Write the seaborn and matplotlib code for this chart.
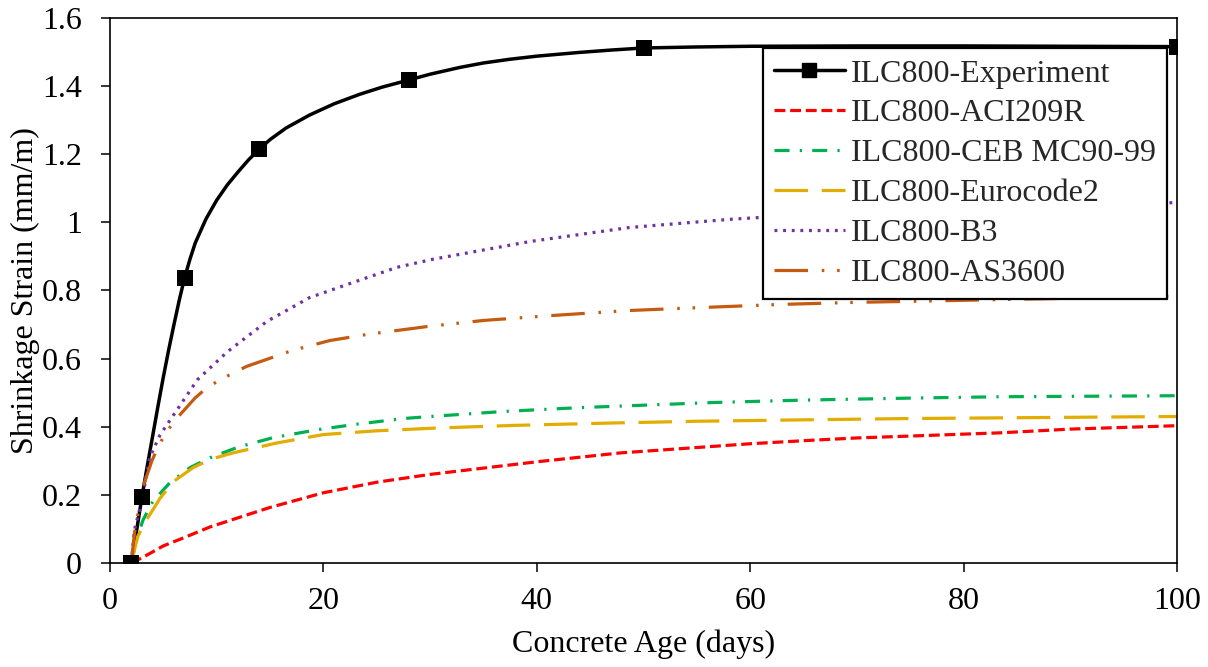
import numpy as np
import pandas as pd
import matplotlib
matplotlib.use("Agg")
import matplotlib.pyplot as plt
from matplotlib.lines import Line2D
from matplotlib.ticker import FuncFormatter
import seaborn as sns

# ---- data ----
exp_days = [2, 3, 7, 14, 28, 50, 100]
exp_strain = [0.0, 0.194, 0.838, 1.215, 1.418, 1.512, 1.516]

# smooth experiment curve
exp_curve_x = [2, 2.5, 3, 3.5, 4, 4.5, 5, 5.5, 6, 6.5, 7, 7.5, 8, 9, 10, 11, 12, 13, 14, 15,
               16.5, 18.7, 21, 23.4, 25.5, 28, 30, 32.8, 35, 37.5, 40, 44, 47, 50, 55, 60,
               70, 80, 90, 100]
exp_curve_y = [0.0, 0.095, 0.194, 0.285, 0.372, 0.46, 0.545, 0.625, 0.70, 0.772, 0.838, 0.892,
               0.94, 1.01, 1.065, 1.11, 1.148, 1.184, 1.215, 1.243, 1.277, 1.315, 1.348, 1.376,
               1.397, 1.418, 1.435, 1.455, 1.468, 1.479, 1.488, 1.499, 1.506, 1.512, 1.515,
               1.517, 1.518, 1.518, 1.517, 1.516]

aci_x = [2, 3, 5, 7, 9.4, 15, 20, 25, 30, 40, 47.8, 60, 65.6, 70, 83.4, 90, 100]
aci_y = [0.0, 0.015, 0.05, 0.075, 0.106, 0.163, 0.206, 0.237, 0.26, 0.297, 0.323, 0.35, 0.36, 0.367, 0.382, 0.393, 0.403]

ceb_x = [2, 2.5, 3.1, 4, 5.6, 7.5, 9.4, 12, 15.3, 19.4, 23, 27.5, 30, 37, 44, 56.5, 64.8, 75, 83.4, 100]
ceb_y = [0.0, 0.07, 0.126, 0.18, 0.235, 0.28, 0.309, 0.34, 0.368, 0.391, 0.407, 0.424, 0.43, 0.445, 0.456, 0.471, 0.478, 0.484, 0.488, 0.491]

ec2_x = [2, 2.6, 3.3, 4.7, 6, 7.8, 9.5, 11.5, 15.6, 20, 25, 30.5, 38, 47.2, 55, 64.5, 75, 83.4, 100]
ec2_y = [0.0, 0.077, 0.12, 0.19, 0.24, 0.28, 0.305, 0.323, 0.352, 0.377, 0.388, 0.396, 0.404, 0.411, 0.416, 0.42, 0.424, 0.426, 0.43]

b3_x = [2, 2.3, 3, 3.75, 4.7, 6.3, 8.2, 11, 14.7, 18.7, 23.1, 26.9, 30.3, 39.4, 48.7, 58.1, 65, 75, 83.4, 92, 100]
b3_y = [0.0, 0.097, 0.185, 0.312, 0.376, 0.45, 0.538, 0.62, 0.709, 0.779, 0.827, 0.868, 0.892, 0.944, 0.985, 1.009, 1.022, 1.035, 1.044, 1.052, 1.058]

as_x = [2, 2.3, 3.1, 3.9, 4.5, 5.3, 6.3, 8, 9.1, 10.5, 12.8, 17.1, 20.6, 24.1, 29.7, 35, 41.2, 48.5, 55.5, 62.8, 69.7, 84.7, 100]
as_y = [0.0, 0.088, 0.224, 0.297, 0.341, 0.385, 0.426, 0.485, 0.515, 0.541, 0.577, 0.624, 0.653, 0.671, 0.694, 0.712, 0.726, 0.741, 0.75, 0.759, 0.765, 0.774, 0.783]

labels = ["ILC800-Experiment", "ILC800-ACI209R", "ILC800-CEB MC90-99",
          "ILC800-Eurocode2", "ILC800-B3", "ILC800-AS3600"]

x_ticks = [0, 20, 40, 60, 80, 100]
y_ticks = [0, 0.2, 0.4, 0.6, 0.8, 1.0, 1.2, 1.4, 1.6]

# ---- style ----
sns.set_theme(style="white")
plt.rcParams["font.family"] = ["Liberation Serif", "DejaVu Serif"]

FS = 23
fig = plt.figure(figsize=(12.08, 6.67), dpi=100)
ax = fig.add_axes([0.091, 0.156, 0.8835, 0.817])

LW = 2.3
series = [
    (aci_x, aci_y, labels[1], "#FF0000", (0, (3.4, 1.5))),
    (ceb_x, ceb_y, labels[2], "#00B050", (0, (4.7, 3.2, 0.7, 3.2))),
    (ec2_x, ec2_y, labels[3], "#E3AC00", (0, (10.5, 4.3))),
    (b3_x, b3_y, labels[4], "#7030A0", (0, (0.9, 1.8))),
    (as_x, as_y, labels[5], "#C55A11", (0, (10.5, 4.3, 0.8, 4.0, 0.8, 4.3))),
]

handles = []
sns.lineplot(x=exp_curve_x, y=exp_curve_y, ax=ax, color="black", linewidth=2.5,
             errorbar=None, sort=False, legend=False)
sns.scatterplot(x=exp_days, y=exp_strain, ax=ax, color="black", marker="s",
                s=120, edgecolor="black", linewidth=0, zorder=5, legend=False)
handles.append(Line2D([], [], color="black", linewidth=2.5, marker="s",
                      markersize=10.5, label=labels[0]))

for xs, ys, lab, col, ls in series:
    sns.lineplot(x=xs, y=ys, ax=ax, color=col, linewidth=LW, linestyle=ls,
                 errorbar=None, sort=False, legend=False)
    handles.append(Line2D([], [], color=col, linewidth=LW, linestyle=ls, label=lab))

ax.set_xlim(0, 100)
ax.set_ylim(0, 1.6)
ax.set_xticks(x_ticks)
ax.set_yticks(y_ticks)
fmt = FuncFormatter(lambda v, p: f"{v:g}")
ax.xaxis.set_major_formatter(fmt)
ax.yaxis.set_major_formatter(fmt)

ax.tick_params(axis="both", which="major", direction="out", length=6.5, width=1.1,
               labelsize=FS, colors="black", bottom=True, left=True,
               top=False, right=False)
ax.tick_params(axis="x", pad=10.5)
ax.tick_params(axis="y", pad=13.5)
for sp in ax.spines.values():
    sp.set_visible(True)
    sp.set_color("black")
    sp.set_linewidth(1.2)

ax.set_xlabel("Concrete Age (days)", fontsize=FS, color="black", labelpad=10)
ax.set_ylabel("Shrinkage Strain (mm/m)", fontsize=FS, color="black", labelpad=1.5)
ax.grid(False)

leg = ax.legend(handles=handles, loc="upper left", bbox_to_anchor=(0.612, 0.945),
                borderaxespad=0, fontsize=FS, frameon=True, fancybox=False,
                handlelength=2.2, handletextpad=0.2, labelspacing=0.33,
                borderpad=0.35, framealpha=1)
leg.get_frame().set_edgecolor("black")
leg.get_frame().set_linewidth(1.6)

fig.savefig("out.png", dpi=100)
